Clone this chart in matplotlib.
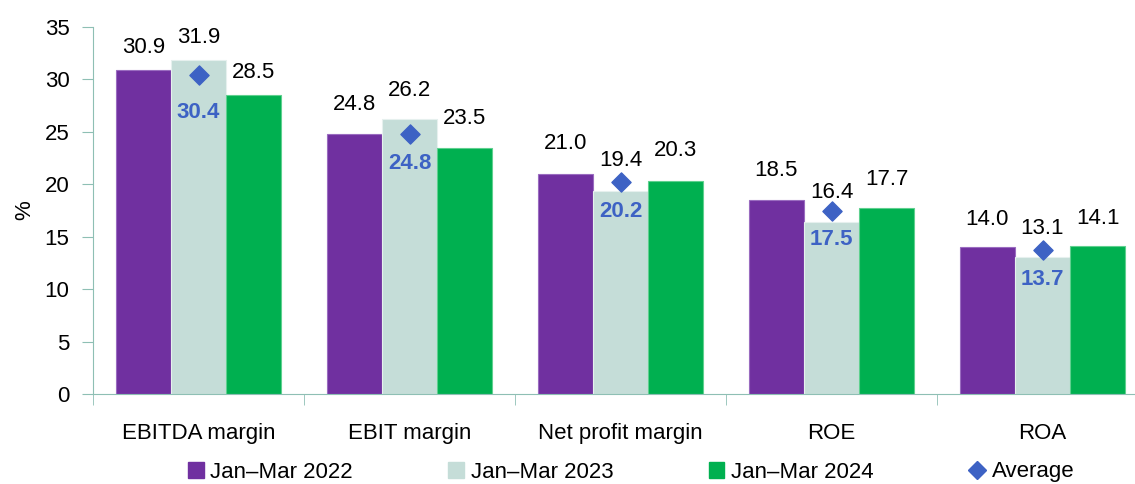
import numpy as np
import matplotlib.pyplot as plt
from matplotlib.lines import Line2D
from matplotlib.patches import Patch

plt.rcParams['font.family'] = ['Liberation Sans Narrow', 'Liberation Sans', 'DejaVu Sans']

categories = ['EBITDA margin', 'EBIT margin', 'Net profit margin', 'ROE', 'ROA']
q1_2022 = [30.9, 24.8, 21.0, 18.5, 14.0]
q1_2023 = [31.9, 26.2, 19.4, 16.4, 13.1]
q1_2024 = [28.5, 23.5, 20.3, 17.7, 14.1]
average = [30.4, 24.8, 20.2, 17.5, 13.7]
series_names = ['Jan\u2013Mar 2022', 'Jan\u2013Mar 2023', 'Jan\u2013Mar 2024', 'Average']

colors = ['#7030A0', '#C5DDD8', '#00B050']
edges = ['#9A6CC0', '#E6F0EE', '#5FD08F']
diamond_color = '#3D62C4'
spine_color = '#8EBFB4'

fig = plt.figure(figsize=(11.35, 4.84), dpi=100)
ax = fig.add_axes([93 / 1135, 90 / 484, 1 - 93 / 1135, (394 - 27) / 484])

x = np.arange(len(categories))
w = 0.262
label_offsets = [16, 21, 22, 21, 20]
for i, vals in enumerate([q1_2022, q1_2023, q1_2024]):
    bars = ax.bar(x + (i - 1) * w, vals, w, color=colors[i], edgecolor=edges[i], linewidth=0.8)
    for b, v, off in zip(bars, vals, label_offsets):
        ax.annotate(f'{v:.1f}', (b.get_x() + b.get_width() / 2, v), xytext=(0, off),
                    textcoords='offset points', ha='center', va='center', fontsize=16)

ax.scatter(x, average, marker='D', s=95, color=diamond_color, zorder=3)
avg_offsets = [-27, -21, -21, -21, -21]
for xi, v, off in zip(x, average, avg_offsets):
    ax.annotate(f'{v:.1f}', (xi, v), xytext=(0, off), textcoords='offset points',
                ha='center', va='center', fontsize=16, fontweight='bold', color=diamond_color)

ax.set_ylim(0, 35)
ax.set_yticks(range(0, 36, 5))
ax.set_xlim(-0.5, 4.5 - 13 / 211)
ax.set_xticks(x)
ax.set_xticklabels(categories)
ax.set_xticks(np.arange(-0.5, 4.5, 1), minor=True)
ax.tick_params(axis='x', which='major', length=0, pad=21, labelsize=16)
ax.tick_params(axis='x', which='minor', length=8, color=spine_color)
ax.tick_params(axis='y', length=8, color=spine_color, labelsize=16, pad=9)
ax.set_ylabel('%', fontsize=16, labelpad=7)

for s in ['top', 'right']:
    ax.spines[s].set_visible(False)
ax.spines['left'].set_color(spine_color)
ax.spines['bottom'].set_color(spine_color)

handles = [Patch(color=c) for c in colors]
handles.append(Line2D([], [], marker='D', color=diamond_color, linestyle='none', markersize=9))
fig.legend(handles, series_names, loc='center', bbox_to_anchor=(0.556, 12 / 484), ncol=4,
           frameon=False, fontsize=16, handlelength=0.7, handleheight=0.7, handletextpad=0.3,
           columnspacing=4.3)

fig.savefig('out.png', dpi=100)
